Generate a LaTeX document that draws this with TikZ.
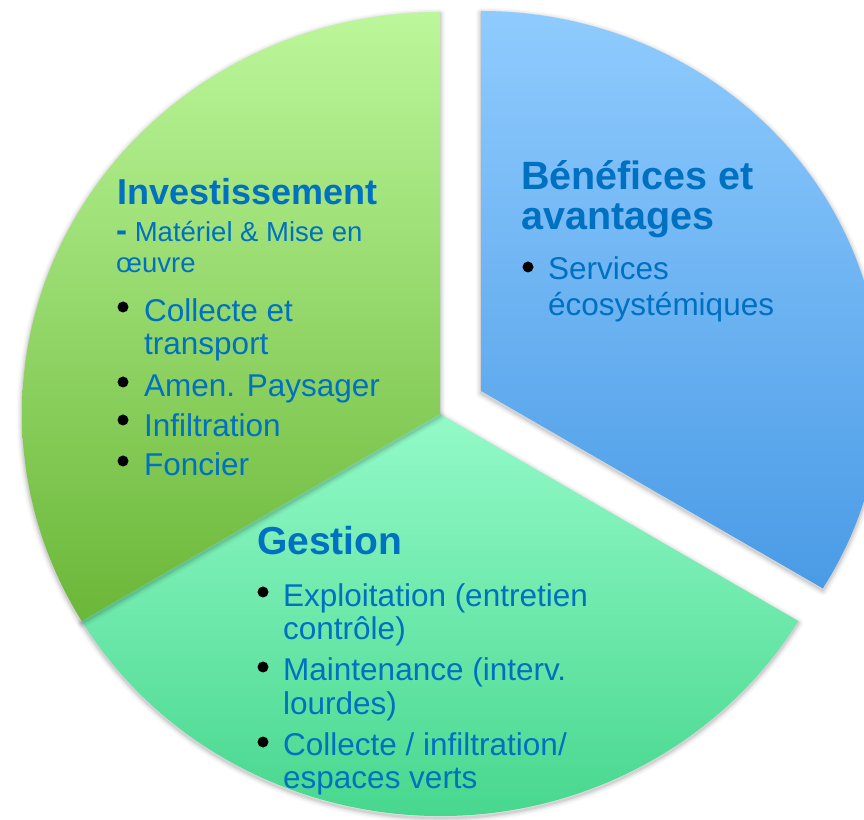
\documentclass[tikz,border=0pt]{standalone}
\usepackage{fontspec}
\setmainfont{Liberation Sans}
\definecolor{txtblue}{HTML}{0070C0}
\definecolor{greentop}{HTML}{BCF79B}
\definecolor{greenbot}{HTML}{6BB738}
\definecolor{bluetop}{HTML}{8FCBFE}
\definecolor{bluebot}{HTML}{4A9BE6}
\definecolor{minttop}{HTML}{93FAC8}
\definecolor{mintbot}{HTML}{3DD286}
\newcommand\SectorPath[7]{\path[#7] (#1,#2) -- ++(#5:#3pt and #4pt) arc[start angle=#5, end angle=#6, x radius=#3pt, y radius=#4pt] -- cycle;}
\newcommand\SectorShadow[6]{\foreach \w/\o in {11/0.025,8/0.035,5/0.05,2.5/0.07}{\SectorPath{#1}{#2}{#3}{#4}{#5}{#6}{draw=black, draw opacity=\o, line width=\w pt, line join=round, yshift=-2pt}}}
\begin{document}
\begin{tikzpicture}[x=1pt,y=1pt,
  title/.style={anchor=base west, inner sep=0pt, text=txtblue, font=\bfseries},
  body/.style={anchor=base west, inner sep=0pt, text=txtblue, font=\fontsize{31.5}{34}\selectfont},
  small/.style={anchor=base west, inner sep=0pt, text=txtblue, font=\fontsize{27.5}{30}\selectfont},
  dot/.style={circle, fill=black, inner sep=0pt, minimum size=11pt}]
\useasboundingbox (0,0) rectangle (864,819);
\clip (0,0) rectangle (864,819);
\fill[white] (0,0) rectangle (864,819);
% Gestion sector (bottom)
\SectorShadow{440}{405}{418}{402}{211}{329}
\SectorPath{440}{405}{418}{402}{211}{329}{shade, top color=minttop, bottom color=mintbot}
% Investissement sector (top left)
\SectorShadow{440}{405}{418}{402}{90}{211}
\SectorPath{440}{405}{418}{402}{90}{211}{shade, top color=greentop, bottom color=greenbot}
% Benefices sector (exploded, top right)
\SectorShadow{481}{428}{400}{380}{-31.3}{90}
\SectorPath{481}{428}{400}{380}{-31.3}{90}{shade, top color=bluetop, bottom color=bluebot}
% Investissement text
\node[title, font=\bfseries\fontsize{36}{40}\selectfont] (inv) at (117,614) {Investissement};
\node[small] (inv1) at (116,577) {{\bfseries\fontsize{33}{34}\selectfont -} Matériel \& Mise en};
\node[small] (inv2) at (116,546) {œuvre};
\node[dot] (ib1) at (123,512) {};
\node[body] (inv3) at (144,497) {Collecte et};
\node[body] (inv4) at (144,464) {transport};
\node[dot] (ib2) at (123,437) {};
\node[body] (inv5) at (144,422) {Amen. Paysager};
\node[dot] (ib3) at (123,399) {};
\node[body] (inv6) at (144,382) {Infiltration};
\node[dot] (ib4) at (123,358) {};
\node[body] (inv7) at (144,343) {Foncier};
% Benefices text
\node[title, font=\bfseries\fontsize{39.5}{42}\selectfont] (ben1) at (521,629) {Bénéfices et};
\node[title, font=\bfseries\fontsize{39.5}{42}\selectfont] (ben2) at (521,589) {avantages};
\node[dot] (bb1) at (528,552) {};
\node[body] (ben3) at (548,539) {Services};
\node[body] (ben4) at (548,503) {écosystémiques};
% Gestion text
\node[title, font=\bfseries\fontsize{39}{42}\selectfont] (ges) at (257,264) {Gestion};
\node[dot] (gb1) at (263,227) {};
\node[body] (ges1) at (283,212) {Exploitation (entretien};
\node[body] (ges2) at (283,179) {contrôle)};
\node[dot] (gb2) at (263,152) {};
\node[body] (ges3) at (283,139) {Maintenance (interv.};
\node[body] (ges4) at (283,104) {lourdes)};
\node[dot] (gb3) at (263,77) {};
\node[body] (ges5) at (283,64) {Collecte / infiltration/};
\node[body] (ges6) at (283,31) {espaces verts};
\end{tikzpicture}
\end{document}
